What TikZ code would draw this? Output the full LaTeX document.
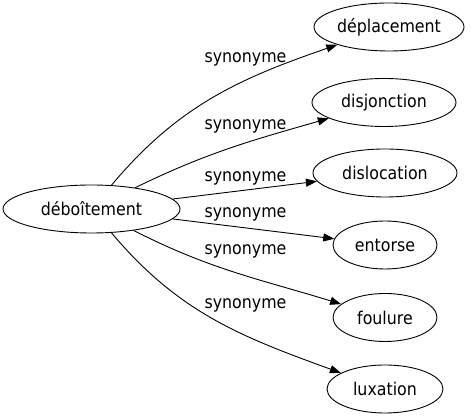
\documentclass[tikz,border=0pt]{standalone}
\usepackage{fontspec}
\setmainfont{DejaVu Sans Condensed}
\usetikzlibrary{arrows.meta,shapes.geometric}
\begin{document}
\begin{tikzpicture}[x=1pt,y=1pt,
  every node/.style={font=\fontsize{17.6}{21}\selectfont},
  word/.style={draw, ellipse, line width=0.9pt, inner sep=0pt, minimum height=48pt},
  lbl/.style={anchor=base, inner sep=0pt},
  edge/.style={line width=0.9pt, -{Triangle[length=11pt,width=8pt]}}]
\useasboundingbox (0,0) rectangle (471,419);
\node[word, minimum width=177pt] (c) at (91.5,210) {déboîtement};
\node[word, minimum width=150pt] (d1) at (389,392) {déplacement};
\node[word, minimum width=144pt] (d2) at (384,316.5) {disjonction};
\node[word, minimum width=144pt] (d3) at (385,246) {dislocation};
\node[word, minimum width=104pt] (d4) at (385,174) {entorse};
\node[word, minimum width=104pt] (d5) at (385,101.5) {foulure};
\node[word, minimum width=116pt] (d6) at (385,30) {luxation};
\draw[edge] (c) to[out=50,in=199] (d1);
\draw[edge] (c) to[out=26,in=196] (d2);
\draw[edge] (c) -- (d3);
\draw[edge] (c) -- (d4);
\draw[edge] (c) to[out=-27,in=163] (d5);
\draw[edge] (c) to[out=-50,in=160] (d6);
\node[lbl] (l1) at (245.5,356.7) {synonyme};
\node[lbl] (l2) at (245.5,289.7) {synonyme};
\node[lbl] (l3) at (245.5,237.3) {synonyme};
\node[lbl] (l4) at (245.5,201.3) {synonyme};
\node[lbl] (l5) at (245.5,164) {synonyme};
\node[lbl] (l6) at (245.5,110.7) {synonyme};
\end{tikzpicture}
\end{document}
